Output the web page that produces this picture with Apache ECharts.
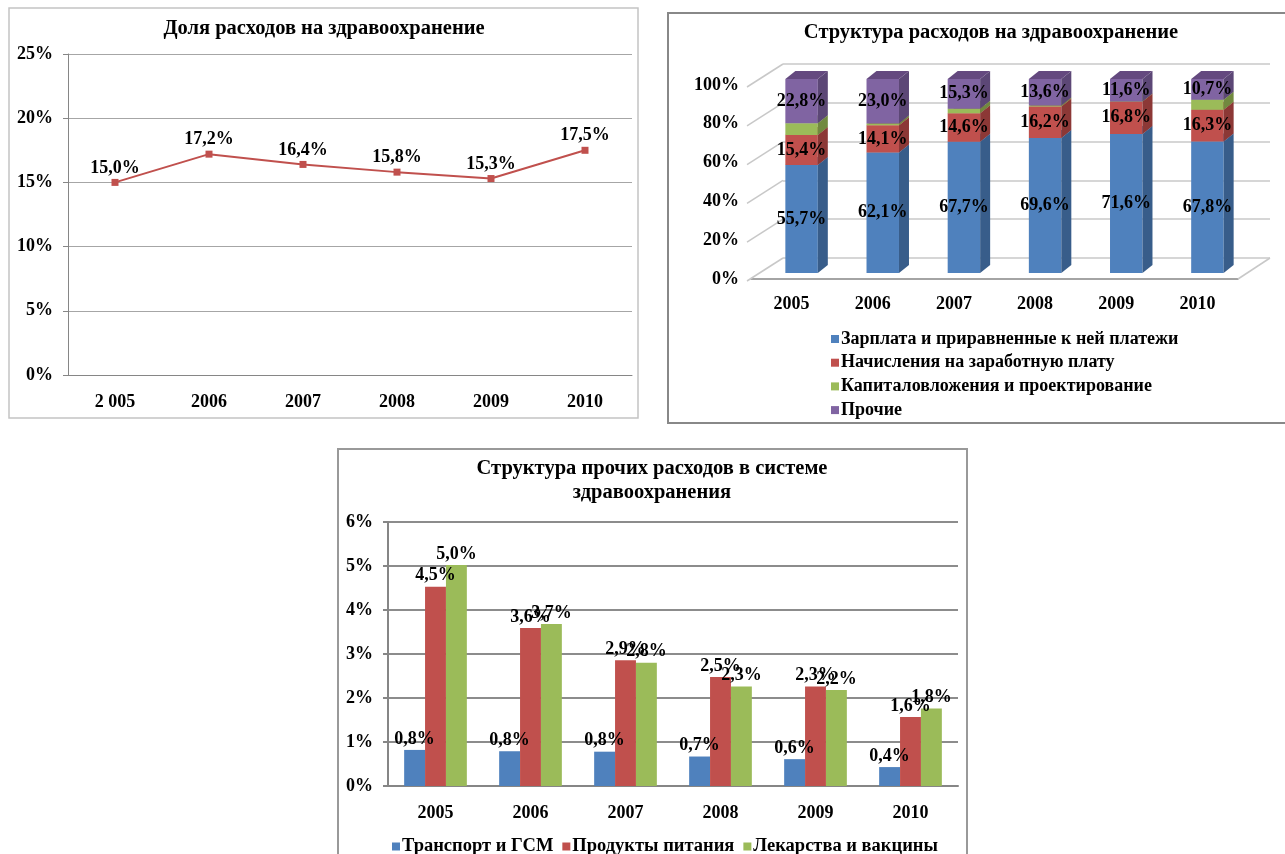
<!DOCTYPE html>
<html lang="ru">
<head>
    <meta charset="UTF-8">
    <title>Расходы на здравоохранение</title>
    <script src="https://cdn.jsdelivr.net/npm/echarts@6/dist/echarts.min.js"></script>
    <style>
        html, body { margin: 0; padding: 0; background: #fff; }
        #chart { width: 1285px; height: 854px; }
    </style>
</head>
<body>
<div id="chart"></div>
<script>
    // --- data ---
    var years = ['2005', '2006', '2007', '2008', '2009', '2010'];
    var shareYears = ['2 005', '2006', '2007', '2008', '2009', '2010'];
    var healthShare = [15.0, 17.2, 16.4, 15.8, 15.3, 17.5];

    var structNames = ['Зарплата и приравненные к ней платежи', 'Начисления на заработную плату',
        'Капиталовложения и проектирование', 'Прочие'];
    var salary = [55.7, 62.1, 67.7, 69.6, 71.6, 67.8];
    var accruals = [15.4, 14.1, 14.6, 16.2, 16.8, 16.3];
    var capital = [6.1, 0.8, 2.4, 0.6, 0.0, 5.2];
    var other = [22.8, 23.0, 15.3, 13.6, 11.6, 10.7];
    var structTicks = [0, 20, 40, 60, 80, 100];

    var otherNames = ['Транспорт и ГСМ', 'Продукты питания', 'Лекарства и вакцины'];
    var transport = [0.82, 0.79, 0.78, 0.67, 0.61, 0.43];
    var food = [4.53, 3.59, 2.86, 2.48, 2.26, 1.57];
    var medicine = [5.02, 3.68, 2.80, 2.26, 2.18, 1.76];

    var FONT = "'Liberation Serif', 'Times New Roman', serif";
    var txt = { fontFamily: FONT, fontWeight: 'bold', fontSize: 18, color: '#000' };

    function pct(v) {
        return v.toFixed(1).replace('.', ',') + '%';
    }

    // 3D look for the stacked columns
    var DX = 10, DY = -6, SIDE_X = 10, SIDE_Y = -8;
    function bar3d(colors, showLabel) {
        return function (params, api) {
            var i = api.value(0), base = api.value(1), v = api.value(2);
            var p0 = api.coord([i, base]);
            var p1 = api.coord([i, base + v]);
            var w = api.size([1, 0])[0] * 0.4;
            var x0 = p0[0] - w / 2 + DX, x1 = x0 + w;
            var yb = p0[1] + DY, yt = p1[1] + DY;
            var kids = [
                {type: 'rect', shape: {x: x0, y: yt, width: w, height: yb - yt}, style: {fill: colors[0]}},
                {type: 'polygon', shape: {points: [[x1, yb], [x1 + SIDE_X, yb + SIDE_Y], [x1 + SIDE_X, yt + SIDE_Y], [x1, yt]]},
                    style: {fill: colors[1]}},
                {type: 'polygon', shape: {points: [[x0, yt], [x0 + SIDE_X, yt + SIDE_Y], [x1 + SIDE_X, yt + SIDE_Y], [x1, yt]]},
                    style: {fill: colors[2]}}
            ];
            if (showLabel && v > 0) {
                kids.push({type: 'text', z2: 10, style: {text: pct(v), x: (x0 + x1) / 2, y: (yt + yb) / 2,
                    align: 'center', verticalAlign: 'middle', fontFamily: FONT, fontWeight: 'bold', fontSize: 18, fill: '#000'}});
            }
            return {type: 'group', children: kids};
        };
    }

    function stackData(layers, k) {
        return years.map(function (y, i) {
            var base = 0;
            for (var j = 0; j < k; j++) base += layers[j][i];
            return [i, base, layers[k][i]];
        });
    }
    var layers = [salary, accruals, capital, other];
    var faceColors = [
        ['#4F81BD', '#385D8A', '#4A78B0'],
        ['#C0504D', '#8C3836', '#A84542'],
        ['#9BBB59', '#71893F', '#8AA94C'],
        ['#8064A2', '#5C4776', '#64497F']
    ];
    var structSeries = layers.map(function (arr, k) {
        return {
            name: structNames[k], type: 'custom', xAxisIndex: 1, yAxisIndex: 1,
            renderItem: bar3d(faceColors[k], k !== 2),
            itemStyle: {color: faceColors[k][0]},
            encode: {x: 0, y: [1, 2]},
            data: stackData(layers, k), z: 3
        };
    });

    // diagonal lines from the front axis to the back wall
    var diagSeries = {
        type: 'custom', xAxisIndex: 1, yAxisIndex: 1, silent: true, z: 1,
        encode: {x: 0, y: 1},
        data: structTicks.map(function (t) { return [0, t]; }),
        renderItem: function (params, api) {
            var cs = params.coordSys;
            var y = api.coord([0, api.value(1)])[1];
            var kids = [{type: 'line', shape: {x1: cs.x - 4, y1: y + 2, x2: cs.x + 32, y2: y - 21},
                style: {stroke: '#C8C8C8', lineWidth: 1.5}}];
            if (api.value(1) === 0) {
                kids.push({type: 'line', shape: {x1: cs.x + cs.width, y1: y, x2: cs.x + cs.width + 32, y2: y - 21},
                    style: {stroke: '#C8C8C8', lineWidth: 1.5}});
            }
            return {type: 'group', children: kids};
        }
    };

    var chart = echarts.init(document.getElementById('chart'));
    var option = {
        backgroundColor: '#fff',
        animation: false,
        graphic: [
            {type: 'rect', shape: {x: 9, y: 8, width: 629, height: 410}, style: {fill: 'none', stroke: '#C4C4C4', lineWidth: 1.5}},
            {type: 'rect', shape: {x: 668, y: 13, width: 620, height: 410}, style: {fill: 'none', stroke: '#888', lineWidth: 2}},
            {type: 'rect', shape: {x: 338, y: 449, width: 629, height: 420}, style: {fill: 'none', stroke: '#999', lineWidth: 2}},
            {type: 'text', x: 324, y: 29, style: {text: 'Доля расходов на здравоохранение', align: 'center', verticalAlign: 'middle',
                fontFamily: FONT, fontWeight: 'bold', fontSize: 20.5, fill: '#000'}},
            {type: 'text', x: 991, y: 33, style: {text: 'Структура расходов на здравоохранение', align: 'center', verticalAlign: 'middle',
                fontFamily: FONT, fontWeight: 'bold', fontSize: 20.5, fill: '#000'}},
            {type: 'text', x: 652, y: 481, style: {text: 'Структура прочих расходов в системе\nздравоохранения', align: 'center',
                verticalAlign: 'middle', lineHeight: 24, fontFamily: FONT, fontWeight: 'bold', fontSize: 20.5, fill: '#000'}}
        ],
        legend: [
            {
                data: structNames, orient: 'vertical', left: 826, top: 325, itemWidth: 8, itemHeight: 8, itemGap: 5.7,
                icon: 'rect', textStyle: {fontFamily: FONT, fontWeight: 'bold', fontSize: 18, color: '#000', padding: [0, 0, 0, -3]}
            },
            {
                data: otherNames, orient: 'horizontal', left: 387, top: 832, itemWidth: 8, itemHeight: 8, itemGap: 9,
                icon: 'rect', textStyle: {fontFamily: FONT, fontWeight: 'bold', fontSize: 18.5, color: '#000', padding: [0, 0, 0, -3]}
            }
        ],
        grid: [
            {left: 68, top: 54, width: 564, height: 321},
            {left: 751, top: 85, width: 487, height: 194},
            {left: 783, top: 64, width: 487, height: 194},
            {left: 388, top: 522, width: 570, height: 264}
        ],
        xAxis: [
            {
                gridIndex: 0, type: 'category', data: shareYears,
                axisLine: {lineStyle: {color: '#868686'}}, axisTick: {length: 6, lineStyle: {color: '#868686'}},
                axisLabel: Object.assign({margin: 18}, txt)
            },
            {
                gridIndex: 1, type: 'category', data: years,
                axisLine: {lineStyle: {color: '#868686', width: 1.5}}, axisTick: {length: 6, lineStyle: {color: '#868686'}},
                axisLabel: Object.assign({margin: 16}, txt)
            },
            {gridIndex: 2, type: 'category', data: years, show: false},
            {
                gridIndex: 3, type: 'category', data: years,
                axisLine: {lineStyle: {color: '#868686', width: 2}}, axisTick: {length: 6, lineStyle: {color: '#868686', width: 2}},
                axisLabel: Object.assign({margin: 18}, txt)
            }
        ],
        yAxis: [
            {
                gridIndex: 0, type: 'value', min: 0, max: 25, interval: 5,
                axisLine: {show: true, lineStyle: {color: '#868686'}}, axisTick: {show: true, length: 5, lineStyle: {color: '#868686'}},
                splitLine: {lineStyle: {color: '#A6A6A6'}},
                axisLabel: Object.assign({margin: 15, formatter: '{value}%'}, txt)
            },
            {
                gridIndex: 1, type: 'value', min: 0, max: 100, interval: 20,
                axisLine: {show: false}, axisTick: {show: false}, splitLine: {show: false},
                axisLabel: Object.assign({margin: 12, formatter: '{value}%'}, txt)
            },
            {
                gridIndex: 2, type: 'value', min: 0, max: 100, interval: 20,
                axisLine: {show: false}, axisTick: {show: false}, axisLabel: {show: false},
                splitLine: {lineStyle: {color: '#C8C8C8', width: 1.5}}
            },
            {
                gridIndex: 3, type: 'value', min: 0, max: 6, interval: 1,
                axisLine: {show: true, lineStyle: {color: '#868686', width: 2}}, axisTick: {show: true, length: 5, lineStyle: {color: '#868686', width: 2}},
                splitLine: {lineStyle: {color: '#8C8C8C', width: 2}},
                axisLabel: Object.assign({margin: 15, formatter: '{value}%'}, txt)
            }
        ],
        series: [
            {
                name: 'Доля', type: 'line', xAxisIndex: 0, yAxisIndex: 0, data: healthShare,
                symbol: 'rect', symbolSize: 7, itemStyle: {color: '#C0504D'}, lineStyle: {color: '#C0504D', width: 2},
                label: Object.assign({show: true, position: 'top', distance: 2, formatter: function (p) { return pct(p.value); }}, txt)
            },
            diagSeries
        ].concat(structSeries).concat([
            {
                name: otherNames[0], type: 'bar', xAxisIndex: 3, yAxisIndex: 3, data: transport, barGap: 0, barCategoryGap: '34%',
                itemStyle: {color: '#4F81BD'},
                label: Object.assign({show: true, position: 'top', distance: 2, formatter: function (p) { return pct(p.value); }}, txt)
            },
            {
                name: otherNames[1], type: 'bar', xAxisIndex: 3, yAxisIndex: 3, data: food, barGap: 0, barCategoryGap: '34%',
                itemStyle: {color: '#C0504D'},
                label: Object.assign({show: true, position: 'top', distance: 2, formatter: function (p) { return pct(p.value); }}, txt)
            },
            {
                name: otherNames[2], type: 'bar', xAxisIndex: 3, yAxisIndex: 3, data: medicine, barGap: 0, barCategoryGap: '34%',
                itemStyle: {color: '#9BBB59'},
                label: Object.assign({show: true, position: 'top', distance: 2, formatter: function (p) { return pct(p.value); }}, txt)
            }
        ])
    };
    chart.setOption(option);
</script>
</body>
</html>
